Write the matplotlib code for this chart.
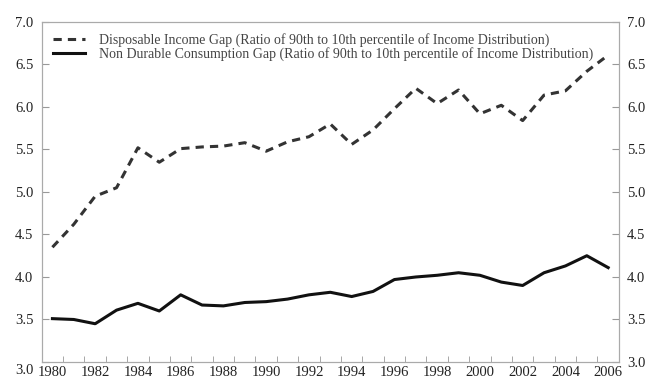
import matplotlib
matplotlib.use('Agg')
import matplotlib.pyplot as plt
from matplotlib.ticker import MultipleLocator, FuncFormatter

plt.rcParams['font.family'] = 'Liberation Serif'

# Data
years = list(range(1980, 2007))
income_gap = [4.35, 4.62, 4.95, 5.05, 5.52, 5.35, 5.51, 5.53, 5.54, 5.58,
              5.48, 5.59, 5.65, 5.80, 5.56, 5.73, 5.98, 6.22, 6.04, 6.20,
              5.92, 6.02, 5.84, 6.14, 6.19, 6.42, 6.61]
consumption_gap = [3.51, 3.50, 3.45, 3.61, 3.69, 3.60, 3.79, 3.67, 3.66, 3.70,
                   3.71, 3.74, 3.79, 3.82, 3.77, 3.83, 3.97, 4.00, 4.02, 4.05,
                   4.02, 3.94, 3.90, 4.05, 4.13, 4.25, 4.11]
labels = ['Disposable Income Gap (Ratio of 90th to 10th percentile of Income Distribution)',
          'Non Durable Consumption Gap (Ratio of 90th to 10th percentile of Income Distribution)']
y_min, y_max = 3.0, 7.0

fig = plt.figure(figsize=(6.46, 3.81), dpi=100)
ax = fig.add_axes([0.0646, 0.0499, 0.8934, 0.8924])

ax.plot(years, income_gap, color='#333333', lw=2.2, dashes=(2.7, 2.0), label=labels[0])
ax.plot(years, consumption_gap, color='#111111', lw=2.2, label=labels[1])

ax.set_xlim(1979.5, 2006.5)
ax.set_ylim(y_min, y_max)
ax.set_xticks(years[::2])
ax.xaxis.set_minor_locator(MultipleLocator(1, offset=0.5))

# right-hand axis repeats the same scale
ax2 = ax.twinx()
ax2.set_ylim(y_min, y_max)

for a in (ax, ax2):
    a.yaxis.set_major_locator(MultipleLocator(0.5))
    a.tick_params(axis='y', direction='in', length=5, color='#999999', labelsize=10.5,
                  labelcolor='#222222', pad=6)
    for s in a.spines.values():
        s.set_color('#aaaaaa')

ax2.yaxis.set_major_formatter(FuncFormatter(lambda v, p: '%.1f' % v))
# the left "3.0" label sits a little low in the original, so it is placed by hand
ax.yaxis.set_major_formatter(FuncFormatter(lambda v, p: '' if v == y_min else '%.1f' % v))
ax.annotate('%.1f' % y_min, xy=(0, y_min), xycoords=('axes fraction', 'data'),
            xytext=(-6, -6), textcoords='offset points', ha='right', va='center',
            fontsize=10.5, color='#222222')

ax.tick_params(axis='x', which='major', length=0, labelsize=10.5, colors='#222222', pad=3)
ax.tick_params(axis='x', which='minor', direction='in', length=4, color='#999999')

leg = ax.legend(loc='upper left', frameon=False, fontsize=10, handlelength=2.3,
                handletextpad=1.0, labelspacing=0.0, bbox_to_anchor=(0.0, 1.0),
                borderaxespad=0.4)
for t in leg.get_texts():
    t.set_color('#444444')

fig.savefig('out.png', dpi=100)
